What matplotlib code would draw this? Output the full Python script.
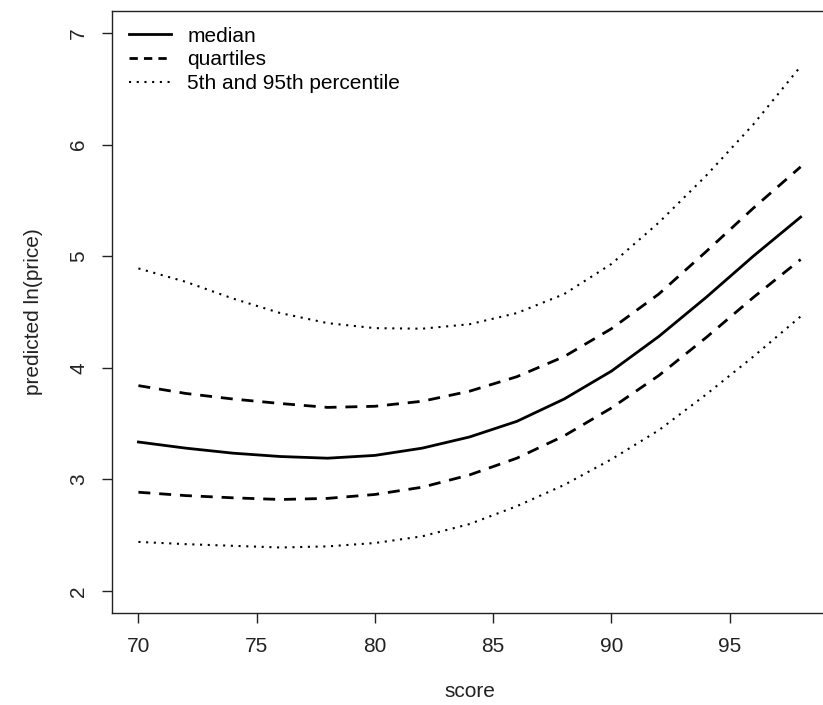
import matplotlib
matplotlib.use("Agg")
import matplotlib.pyplot as plt
from matplotlib.lines import Line2D

plt.rcParams['font.family'] = ['Liberation Sans', 'DejaVu Sans']
plt.rcParams['font.size'] = 15

# values, score 70..98 in steps of 2
score = [70, 72, 74, 76, 78, 80, 82, 84, 86, 88, 90, 92, 94, 96, 98]
median = [3.335, 3.28, 3.235, 3.205, 3.19, 3.215, 3.28, 3.38, 3.52, 3.72,
          3.97, 4.28, 4.63, 5.00, 5.35]
q_upper = [3.84, 3.77, 3.72, 3.68, 3.645, 3.655, 3.70, 3.79, 3.92, 4.10,
           4.35, 4.66, 5.04, 5.43, 5.80]
q_lower = [2.885, 2.855, 2.835, 2.82, 2.83, 2.865, 2.93, 3.04, 3.19, 3.39,
           3.64, 3.93, 4.27, 4.63, 4.97]
p95 = [4.89, 4.77, 4.62, 4.49, 4.40, 4.355, 4.35, 4.39, 4.49, 4.66,
       4.93, 5.30, 5.72, 6.18, 6.70]
p05 = [2.44, 2.42, 2.405, 2.39, 2.40, 2.43, 2.49, 2.60, 2.76, 2.95,
       3.18, 3.44, 3.76, 4.10, 4.46]

x_ticks = [70, 75, 80, 85, 90, 95]
y_ticks = [2, 3, 4, 5, 6, 7]

fig = plt.figure(figsize=(8.23, 7.05), dpi=100)
# right edge of the box sits just past the image edge, like the reference
ax = fig.add_axes([0.136, 0.130, 0.869, 0.855])

dash = (4.3, 3.2)
dot = (1, 2.7)

ax.plot(score, median, color='black', lw=2)
ax.plot(score, q_upper, color='black', lw=2, linestyle=(0, dash))
ax.plot(score, q_lower, color='black', lw=2, linestyle=(0, dash))
ax.plot(score, p95, color='black', lw=1.5, linestyle=(0, dot))
ax.plot(score, p05, color='black', lw=1.5, linestyle=(0, dot))

# R style 4% padding around the limits
ax.set_xlim(70 - 0.04 * 28, 98 + 0.04 * 28)
ax.set_ylim(2 - 0.04 * 5, 7 + 0.04 * 5)

ax.set_xticks(x_ticks)
ax.set_yticks(y_ticks)
ax.tick_params(axis='both', direction='out', length=7, width=1, colors='#222222')
ax.tick_params(axis='x', pad=10)
ax.tick_params(axis='y', pad=10)
for lab in ax.get_yticklabels():
    lab.set_rotation(90)
    lab.set_va('center')

for sp in ax.spines.values():
    sp.set_linewidth(1)
    sp.set_color('#222222')

ax.set_xlabel('score', labelpad=19, color='#222222')
ax.set_ylabel('predicted ln(price)', labelpad=19, color='#222222')

handles = [
    Line2D([], [], color='black', lw=2),
    Line2D([], [], color='black', lw=2, linestyle=(0, (3.0, 2.2))),
    Line2D([], [], color='black', lw=1.5, linestyle=(0, (1, 2.7))),
]
ax.legend(handles, ['median', 'quartiles', '5th and 95th percentile'],
          loc='upper left', frameon=False, handlelength=2.0,
          handletextpad=0.8, labelspacing=0.22,
          borderaxespad=0.0, bbox_to_anchor=(0.012, 0.987))

fig.savefig('out.png', dpi=100)
